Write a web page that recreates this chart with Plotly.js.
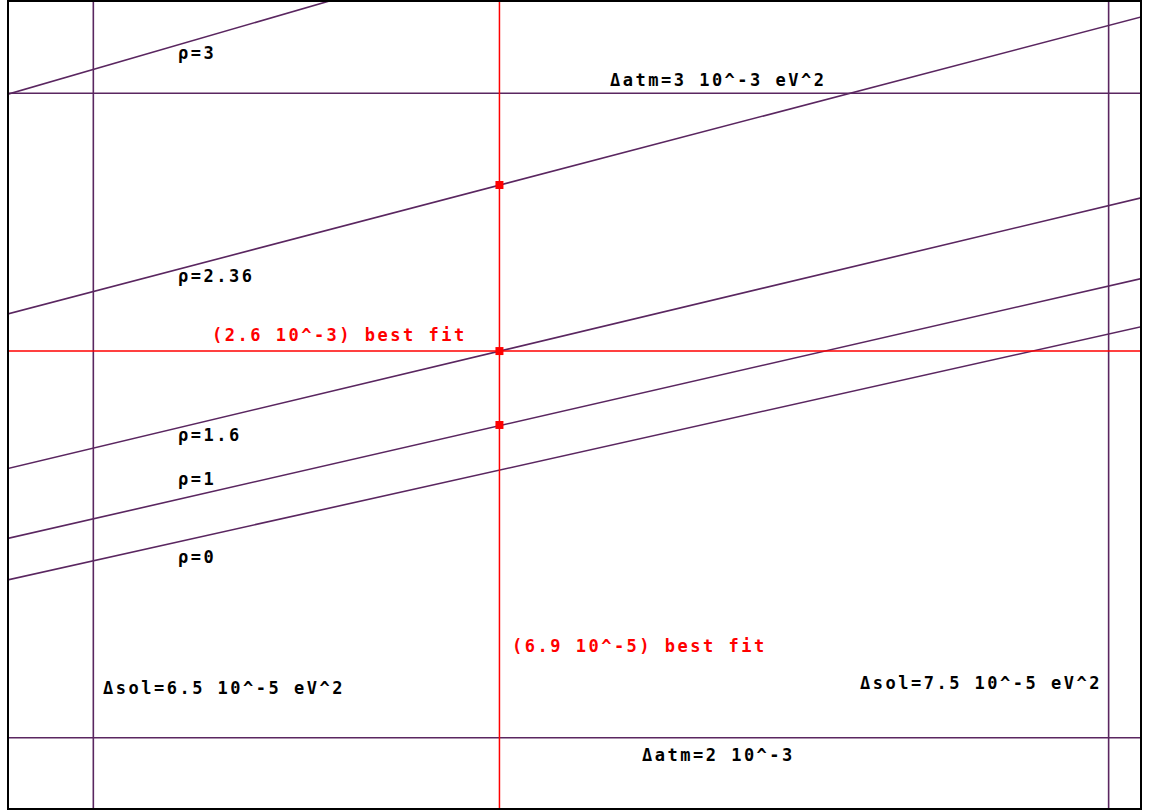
<!DOCTYPE html>
<html>
<head>
<meta charset="utf-8">
<script src="https://cdn.plot.ly/plotly-3.0.1.min.js"></script>
<style>
  html, body { margin: 0; padding: 0; background: #ffffff; }
  #chart { width: 1161px; height: 812px; }
  .annotation-text { letter-spacing: 2.5px; }
</style>
</head>
<body>
<div id="chart"></div>
<script>
// ---- data (Δsol in 10^-5 eV^2, Δatm in 10^-3 eV^2) ----
const rhoLabels = ['ρ=0', 'ρ=1', 'ρ=1.6', 'ρ=2.36', 'ρ=3'];
const lineX = [6.40, 7.55];                                  // Δsol at both ends of each ρ line
const rhoYStart = [2.2393, 2.3035, 2.4117, 2.6511, 2.9913];  // Δatm at Δsol = 6.40
const rhoYEnd   = [2.644, 2.719, 2.8445, 3.1259, 3.5168];    // Δatm at Δsol = 7.55
const solBounds = [6.5, 7.5];
const atmBounds = [2.0, 3.0];
const bestSol = 6.9;
const bestAtm = 2.6;
const crossingY = [2.4853, 2.6, 2.8577];                     // red points on the best-fit Δsol line
const spanY = [1.80, 3.30];
const spanX = [6.30, 7.70];

const purple = '#5a2660';
const red = '#ff0000';

const traces = [];
for (let i = 0; i < rhoLabels.length; i++) {
  traces.push({x: lineX, y: [rhoYStart[i], rhoYEnd[i]], mode: 'lines', name: rhoLabels[i],
               line: {color: purple, width: 1.6}});
}
solBounds.forEach(v => traces.push({x: [v, v], y: spanY, mode: 'lines', line: {color: purple, width: 1.6}}));
atmBounds.forEach(v => traces.push({x: spanX, y: [v, v], mode: 'lines', line: {color: purple, width: 1.6}}));
traces.push({x: [bestSol, bestSol], y: spanY, mode: 'lines', line: {color: red, width: 1.5}});
traces.push({x: spanX, y: [bestAtm, bestAtm], mode: 'lines', line: {color: red, width: 1.5}});
traces.push({x: crossingY.map(() => bestSol), y: crossingY, mode: 'markers',
             marker: {symbol: 'square', size: 8, color: red}});

const fnt = {family: 'DejaVu Sans Mono', size: 17, color: '#000000', weight: 'bold'};
const fntRed = Object.assign({}, fnt, {color: red});
function ann(text, x, y, font, xanchor) {
  return {text: '<b>' + text + '</b>', x: x, y: y, xref: 'x', yref: 'y', showarrow: false,
          xanchor: xanchor || 'left', yanchor: 'middle', font: font};
}
const annotations = [
  ann(rhoLabels[4], 6.5814, 3.0620, fnt),
  ann(rhoLabels[3], 6.5814, 2.7160, fnt),
  ann(rhoLabels[2], 6.5814, 2.4690, fnt),
  ann(rhoLabels[1], 6.5814, 2.4010, fnt),
  ann(rhoLabels[0], 6.5814, 2.2810, fnt),
  ann('Δatm=3 10^-3 eV^2', 7.0070, 3.0206, fnt),
  ann('(2.6 10^-3) best fit', 6.6149, 2.6249, fntRed),
  ann('(6.9 10^-5) best fit', 6.9104, 2.1423, fntRed),
  ann('Δsol=6.5 10^-5 eV^2', 6.5076, 2.0771, fnt),
  ann('Δsol=7.5 10^-5 eV^2', 7.4950, 2.0849, fnt, 'right'),
  ann('Δatm=2 10^-3', 7.0384, 1.9732, fnt)
];

const axisCommon = {showgrid: false, zeroline: false, showticklabels: false, ticks: '',
                    showline: true, mirror: true, linecolor: '#000000', linewidth: 2, fixedrange: true};
const layout = {
  width: 1161, height: 812,
  margin: {l: 9, r: 21, t: 2, b: 4, pad: 0},
  paper_bgcolor: '#ffffff', plot_bgcolor: '#ffffff',
  showlegend: false, hovermode: false,
  xaxis: Object.assign({range: [6.41694, 7.5309]}, axisCommon),
  yaxis: Object.assign({range: [1.89091, 3.14168]}, axisCommon),
  annotations: annotations
};
Plotly.newPlot('chart', traces, layout, {staticPlot: true, displayModeBar: false});
</script>
</body>
</html>
